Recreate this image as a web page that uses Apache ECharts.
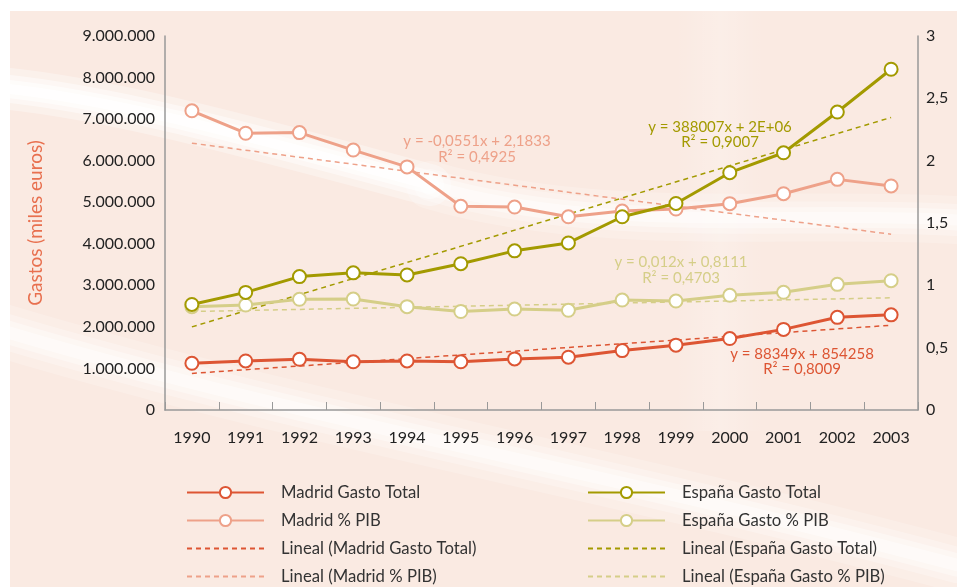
<!DOCTYPE html>
<html>
<head>
<meta charset="utf-8">
<script src="https://cdn.jsdelivr.net/npm/echarts@6/dist/echarts.min.js"></script>
<style>
html,body{margin:0;padding:0;background:#ffffff;}
#chart{width:957px;height:587px;}
</style>
</head>
<body>
<div id="chart"></div>
<script>
// ---- data ----
var years = ['1990','1991','1992','1993','1994','1995','1996','1997','1998','1999','2000','2001','2002','2003'];
var madridTotal = [1124000,1180000,1220000,1160000,1180000,1160000,1230000,1270000,1430000,1560000,1720000,1940000,2230000,2290000];
var espanaTotal = [2540000,2830000,3210000,3300000,3250000,3520000,3830000,4020000,4650000,4970000,5710000,6190000,7170000,8200000];
var madridPIB = [2.40,2.22,2.225,2.085,1.95,1.634,1.628,1.55,1.596,1.612,1.655,1.735,1.85,1.797];
var espanaPIB = [0.829,0.842,0.888,0.89,0.829,0.79,0.81,0.80,0.882,0.874,0.92,0.944,1.008,1.037];
// trend lines: endpoints (straight lines between)
var madridTotalTrend = [880000,null,null,null,null,null,null,null,null,null,null,null,null,2040000];
var espanaTotalTrend = [2000000,null,null,null,null,null,null,null,null,null,null,null,null,7040000];
var madridPIBTrend = [2.14,null,null,null,null,null,null,null,null,null,null,null,null,1.41];
var espanaPIBTrend = [0.79,null,null,null,null,null,null,null,null,null,null,null,null,0.90];
var seriesNames = ['Madrid Gasto Total','Madrid % PIB','Lineal (Madrid Gasto Total)','Lineal (Madrid % PIB)',
                   'España Gasto Total','España Gasto % PIB','Lineal (España Gasto Total)','Lineal (España Gasto % PIB)'];
var trendLabels = [
  ['y = -0,0551x + 2,1833','R² = 0,4925'],
  ['y = 388007x + 2E+06','R² = 0,9007'],
  ['y = 0,012x + 0,8111','R² = 0,4703'],
  ['y = 88349x + 854258','R² = 0,8009']
];

var C_RED = '#DD5533', C_SAL = '#EEA189', C_OLV = '#A39A00', C_LOL = '#D5CE88';
var FONT = 'Lato';

var chart = echarts.init(document.getElementById('chart'));

function solid(name, data, color, yIdx, z){
  return {name:name,type:'line',data:data,yAxisIndex:yIdx,symbol:'circle',symbolSize:13,z:z,
    itemStyle:{color:'#ffffff',borderColor:color,borderWidth:2},
    lineStyle:{color:color,width:3},emphasis:{disabled:true}};
}
function dashed(name, data, color, yIdx){
  return {name:name,type:'line',data:data,yAxisIndex:yIdx,symbol:'none',connectNulls:true,z:1,
    itemStyle:{color:'rgba(0,0,0,0)',borderColor:'rgba(0,0,0,0)'},
    lineStyle:{color:color,width:1.5,type:[5,4]},emphasis:{disabled:true}};
}
function fmtThousands(v){
  return String(v).replace(/\B(?=(\d{3})+(?!\d))/g,'.');
}
function txt(x,y,s,color){
  return {type:'text',x:x,y:y,style:{text:s,fill:color,font:'15px '+FONT,textAlign:'center',textVerticalAlign:'middle'},z:50,silent:true};
}
// soft background streaks (decoration only): several stacked translucent strokes
function streak(p,w,a){
  var out=[];
  [[3,0.10],[2,0.14],[1.3,0.18],[0.7,0.22]].forEach(function(k){
    out.push({type:'bezierCurve',shape:{x1:p[0],y1:p[1],cpx1:p[2],cpy1:p[3],cpx2:p[4],cpy2:p[5],x2:p[6],y2:p[7]},
      style:{stroke:'rgba(255,255,255,'+(k[1]*a)+')',lineWidth:w*k[0],lineCap:'round',fill:null},z:-8,silent:true});
  });
  return out;
}

var legendCommon = {orient:'vertical',itemWidth:77,itemHeight:14,itemGap:11,padding:0,height:120,
  textStyle:{fontFamily:FONT,fontSize:16.7,color:'#333',padding:[0,0,0,12]},selectedMode:false};

var graphics = [
  {type:'rect',shape:{x:10,y:11,width:947,height:576},style:{fill:'#FAEAE2'},z:-10,silent:true},
  {type:'rect',shape:{x:675,y:11,width:90,height:420},
    style:{fill:new echarts.graphic.LinearGradient(0,0,1,0,[
      {offset:0,color:'rgba(255,255,255,0)'},{offset:0.5,color:'rgba(255,255,255,0.2)'},{offset:1,color:'rgba(255,255,255,0)'}])},z:-9,silent:true}
];
graphics = graphics
  .concat(streak([0,88,120,100,260,140,430,185],14,3.2))
  .concat(streak([430,185,600,235,800,210,957,220],16,2.0))
  .concat(streak([0,330,300,420,600,470,957,565],18,2.0));
graphics = graphics.concat([
  txt(477,141,trendLabels[0][0],C_SAL), txt(477,157,trendLabels[0][1],C_SAL),
  txt(720,127,trendLabels[1][0],C_OLV), txt(720,142,trendLabels[1][1],C_OLV),
  txt(681,262,trendLabels[2][0],C_LOL), txt(681,278,trendLabels[2][1],C_LOL),
  txt(802,354,trendLabels[3][0],C_RED), txt(802,369,trendLabels[3][1],C_RED)
]);

var option = {
  backgroundColor:'#ffffff',
  animation:false,
  graphic:graphics,
  grid:{left:165,right:39,top:36,bottom:177,containLabel:false},
  legend:[
    Object.assign({},legendCommon,{left:186,top:484,data:seriesNames.slice(0,4)}),
    Object.assign({},legendCommon,{left:587,top:484,data:seriesNames.slice(4,8)})
  ],
  xAxis:{type:'category',data:years,boundaryGap:true,
    axisLine:{lineStyle:{color:'#999',width:1.5}},
    axisTick:{show:true,inside:true,length:8,lineStyle:{color:'#999'}},
    axisLabel:{fontFamily:FONT,fontSize:16,color:'#222',margin:20}},
  yAxis:[
    {type:'value',min:0,max:9000000,interval:1000000,position:'left',
     name:'Gastos (miles euros)',nameLocation:'middle',nameGap:120,nameRotate:90,
     nameTextStyle:{fontFamily:FONT,fontSize:19,color:'#E8704F'},
     axisLine:{show:true,lineStyle:{color:'#999',width:1.5}},axisTick:{show:false},splitLine:{show:false},
     axisLabel:{fontFamily:FONT,fontSize:16,color:'#222',margin:10,formatter:fmtThousands}},
    {type:'value',min:0,max:3,interval:0.5,position:'right',
     axisLine:{show:true,lineStyle:{color:'#999',width:1.5}},axisTick:{show:false},splitLine:{show:false},
     axisLabel:{fontFamily:FONT,fontSize:16,color:'#222',margin:8,formatter:function(v){return String(v).replace('.',',');}}}
  ],
  series:[
    solid(seriesNames[0],madridTotal,C_RED,0,5),
    solid(seriesNames[1],madridPIB,C_SAL,1,4),
    dashed(seriesNames[2],madridTotalTrend,C_RED,0),
    dashed(seriesNames[3],madridPIBTrend,C_SAL,1),
    solid(seriesNames[4],espanaTotal,C_OLV,0,6),
    solid(seriesNames[5],espanaPIB,C_LOL,1,3),
    dashed(seriesNames[6],espanaTotalTrend,C_OLV,0),
    dashed(seriesNames[7],espanaPIBTrend,C_LOL,1)
  ]
};
chart.setOption(option);
</script>
</body>
</html>
